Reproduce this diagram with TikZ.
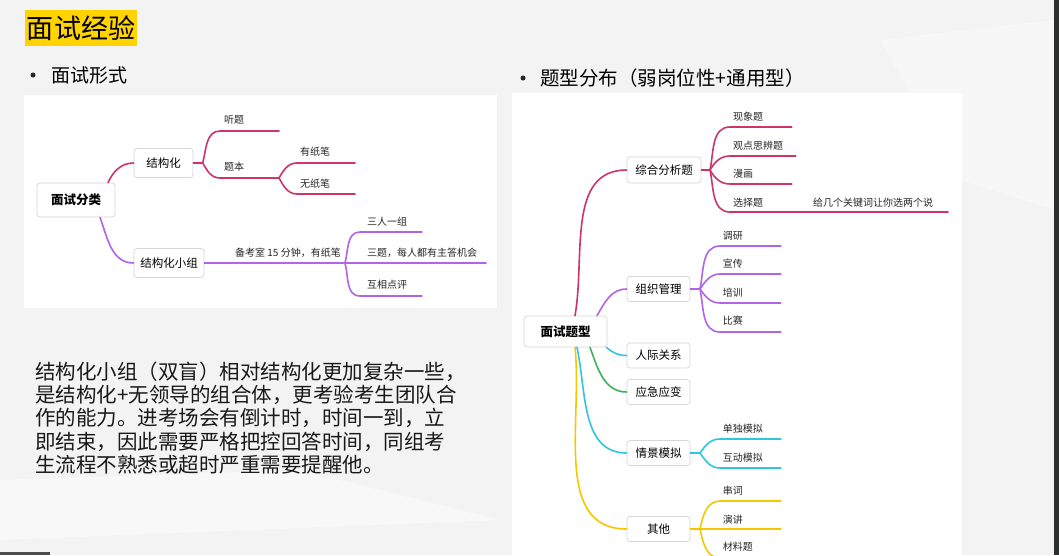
\documentclass[tikz,border=0pt]{standalone}
\usepackage{fontspec}
\setmainfont{Noto Sans CJK SC}
\definecolor{bggray}{HTML}{F3F3F3}
\definecolor{boxgray}{HTML}{D6D6D6}
\definecolor{pinkc}{HTML}{CE3466}
\definecolor{purp}{HTML}{B064E6}
\definecolor{cyanc}{HTML}{2FC6DE}
\definecolor{greenc}{HTML}{3DB45A}
\definecolor{yelc}{HTML}{F6C700}
\definecolor{titleyellow}{HTML}{FFD400}
\definecolor{darkstrip}{HTML}{2B302F}
\begin{document}
\begin{tikzpicture}[x=1pt,y=1pt,
  box/.style={draw=boxgray, fill=white, rounded corners=3pt, line width=0.7pt, inner sep=0pt, font=\fontsize{11.5}{13}\selectfont},
  rootbox/.style={box, font=\fontsize{12.5}{14}\selectfont\bfseries},
  leaf/.style={anchor=west, inner sep=0pt, font=\fontsize{10}{12}\selectfont, text=black!85},
  para/.style={anchor=west, inner sep=0pt, font=\fontsize{20.5}{22}\selectfont, text=black!90},
  bul/.style={circle, fill=black!85, inner sep=0pt, minimum size=5pt},
  br/.style={line width=1.6pt, line cap=round}
]
\useasboundingbox (0,0) rectangle (1059,-555);
\clip (0,0) rectangle (1059,-555);
% background
\fill[bggray] (0,0) rectangle (1059,-555);
\fill[white!35!bggray] (880,-40) -- (1054,-20) -- (1054,-210) -- (960,-180) -- cycle;
\fill[white!40!bggray] (0,-480) -- (300,-470) -- (500,-520) -- (0,-540) -- cycle;
\fill[darkstrip] (1054,0) rectangle (1059,-555);
\fill[black!70] (0,-552) rectangle (50,-555);
% panels
\fill[white] (24,-95) rectangle (497,-308);
\fill[white] (512,-93) rectangle (962,-555);
% title
\node[fill=titleyellow, inner sep=0pt, minimum width=112pt, minimum height=36pt, font=\fontsize{27}{28}\selectfont] (title) at (81,-28) {面试经验};
\node[bul] (b1) at (33,-75) {};
\node[anchor=west, inner sep=0pt, font=\fontsize{19}{20}\selectfont] (h1) at (51,-75) {面试形式};
\node[bul] (b2) at (523,-78) {};
\node[anchor=west, inner sep=0pt, font=\fontsize{19.5}{20}\selectfont] (h2) at (540,-78) {题型分布（弱岗位性+通用型）};
% paragraph
\node[para] (p1) at (35,-372) {结构化小组（双盲）相对结构化更加复杂一些，};
\node[para] (p2) at (35,-395) {是结构化+无领导的组合体，更考验考生团队合};
\node[para] (p3) at (35,-418) {作的能力。进考场会有倒计时，时间一到，立};
\node[para] (p4) at (35,-441.5) {即结束，因此需要严格把控回答时间，同组考};
\node[para] (p5) at (35,-465) {生流程不熟悉或超时严重需要提醒他。};

% ===== left mind map =====
\node[rootbox, minimum width=78pt, minimum height=34pt] (m1) at (76,-200) {面试分类};
\node[box, minimum width=59pt, minimum height=29pt] (a1) at (163.5,-163) {结构化};
\node[box, minimum width=70pt, minimum height=29pt] (a2) at (169,-263) {结构化小组};
\draw[br,pinkc] ([xshift=32pt]m1.north) to[out=65,in=180] (a1.west);
\draw[br,purp] ([xshift=24pt]m1.south) to[out=-70,in=180] (a2.west);
% 结构化
\coordinate (f1) at (202.7,-163);
\draw[br,pinkc] (a1.east) -- (f1);
\coordinate (t1s) at (220,-131); \coordinate (t1e) at (279,-131);
\coordinate (t2s) at (220,-178); \coordinate (f2) at (279,-178);
\draw[br,pinkc] (f1) to[out=75,in=180] (t1s) -- (t1e);
\draw[br,pinkc] (f1) to[out=-60,in=180] (t2s) -- (f2);
\node[leaf] (t1) at (224,-120) {听题};
\node[leaf] (t2) at (224,-167) {题本};
\coordinate (t3s) at (297,-163); \coordinate (t3e) at (355,-163);
\coordinate (t4s) at (297,-194); \coordinate (t4e) at (355,-194);
\draw[br,pinkc] (f2) to[out=60,in=180] (t3s) -- (t3e);
\draw[br,pinkc] (f2) to[out=-60,in=180] (t4s) -- (t4e);
\node[leaf] (t3) at (300,-152) {有纸笔};
\node[leaf] (t4) at (300,-184) {无纸笔};
% 结构化小组
\coordinate (f3) at (345,-263);
\draw[br,purp] (a2.east) -- (f3);
\node[leaf] (u0) at (235,-253) {备考室 15 分钟，有纸笔};
\coordinate (u1s) at (360,-232); \coordinate (u1e) at (422,-232);
\coordinate (u2e) at (486,-263);
\coordinate (u3s) at (360,-296); \coordinate (u3e) at (422,-296);
\draw[br,purp] (f3) to[out=75,in=180] (u1s) -- (u1e);
\draw[br,purp] (f3) -- (u2e);
\draw[br,purp] (f3) to[out=-75,in=180] (u3s) -- (u3e);
\node[leaf] (u1) at (367,-222) {三人一组};
\node[leaf] (u2) at (367,-253) {三题，每人都有主答机会};
\node[leaf] (u3) at (367,-285) {互相点评};

% ===== right mind map =====
\node[rootbox, minimum width=83pt, minimum height=31pt] (m2) at (565.5,-331.5) {面试题型};
\node[box, minimum width=74pt, minimum height=26pt] (c1) at (664,-170) {综合分析题};
\node[box, minimum width=63pt, minimum height=25pt] (c2) at (658.5,-289) {组织管理};
\node[box, minimum width=63pt, minimum height=25pt] (c3) at (658.5,-355.5) {人际关系};
\node[box, minimum width=63pt, minimum height=25pt] (c4) at (658.5,-392) {应急应变};
\node[box, minimum width=63pt, minimum height=25pt] (c5) at (658.5,-453) {情景模拟};
\node[box, minimum width=63pt, minimum height=25pt] (c6) at (658.5,-529) {其他};
\draw[br,pinkc] ([xshift=9.5pt]m2.north) to[out=80,in=180] (c1.west);
\draw[br,purp] ([xshift=31.5pt]m2.north) to[out=60,in=180] (c2.west);
\draw[br,cyanc] ([xshift=-1pt]m2.south east) to[out=-40,in=180] (c3.west);
\draw[br,greenc] ([xshift=24.5pt]m2.south) to[out=-70,in=180] (c4.west);
\draw[br,cyanc] ([xshift=11.5pt]m2.south) to[out=-78,in=180] (c5.west);
\draw[br,yelc] ([xshift=9.5pt]m2.south) to[out=-84,in=180] (c6.west);
% 综合分析题
\coordinate (f4) at (710,-170);
\draw[br,pinkc] (c1.east) -- (f4);
\coordinate (v1s) at (730,-127); \coordinate (v1e) at (791.7,-127);
\coordinate (v2s) at (730,-156); \coordinate (v2e) at (795.7,-156);
\coordinate (v3s) at (730,-184); \coordinate (v3e) at (791.7,-184);
\coordinate (v4s) at (730,-212); \coordinate (v4e) at (948,-212);
\draw[br,pinkc] (f4) to[out=78,in=180] (v1s) -- (v1e);
\draw[br,pinkc] (f4) to[out=60,in=180] (v2s) -- (v2e);
\draw[br,pinkc] (f4) to[out=-60,in=180] (v3s) -- (v3e);
\draw[br,pinkc] (f4) to[out=-78,in=180] (v4s) -- (v4e);
\node[leaf] (v1) at (733,-117) {现象题};
\node[leaf] (v2) at (733,-146) {观点思辨题};
\node[leaf] (v3) at (733,-174) {漫画};
\node[leaf] (v4) at (733,-203) {选择题};
\node[leaf] (v5) at (813,-203) {给几个关键词让你选两个说};
% 组织管理
\coordinate (f5) at (700,-289);
\draw[br,purp] (c2.east) -- (f5);
\coordinate (w1s) at (720,-246); \coordinate (w1e) at (780.7,-246);
\coordinate (w2s) at (720,-274); \coordinate (w2e) at (780.7,-274);
\coordinate (w3s) at (720,-303); \coordinate (w3e) at (780.7,-303);
\coordinate (w4s) at (720,-332); \coordinate (w4e) at (780.7,-332);
\draw[br,purp] (f5) to[out=78,in=180] (w1s) -- (w1e);
\draw[br,purp] (f5) to[out=55,in=180] (w2s) -- (w2e);
\draw[br,purp] (f5) to[out=-55,in=180] (w3s) -- (w3e);
\draw[br,purp] (f5) to[out=-78,in=180] (w4s) -- (w4e);
\node[leaf] (w1) at (722.7,-236) {调研};
\node[leaf] (w2) at (722.7,-264) {宣传};
\node[leaf] (w3) at (722.7,-292.7) {培训};
\node[leaf] (w4) at (722.7,-321) {比赛};
% 情景模拟
\coordinate (f6) at (700,-453);
\draw[br,cyanc] (c5.east) -- (f6);
\coordinate (x1s) at (720,-439); \coordinate (x1e) at (780.7,-439);
\coordinate (x2s) at (720,-468); \coordinate (x2e) at (780.7,-468);
\draw[br,cyanc] (f6) to[out=55,in=180] (x1s) -- (x1e);
\draw[br,cyanc] (f6) to[out=-55,in=180] (x2s) -- (x2e);
\node[leaf] (x1) at (722.7,-429) {单独模拟};
\node[leaf] (x2) at (722.7,-457.3) {互动模拟};
% 其他
\coordinate (f7) at (700,-529);
\draw[br,yelc] (c6.east) -- (f7);
\coordinate (y1s) at (720,-501); \coordinate (y1e) at (780.7,-501);
\coordinate (y2e) at (780.7,-529);
\coordinate (y3s) at (720,-558); \coordinate (y3e) at (780.7,-558);
\draw[br,yelc] (f7) to[out=78,in=180] (y1s) -- (y1e);
\draw[br,yelc] (f7) -- (y2e);
\draw[br,yelc] (f7) to[out=-78,in=180] (y3s) -- (y3e);
\node[leaf] (y1) at (722.7,-491) {串词};
\node[leaf] (y2) at (722.7,-519.3) {演讲};
\node[leaf] (y3) at (722.7,-547) {材料题};
\end{tikzpicture}
\end{document}
